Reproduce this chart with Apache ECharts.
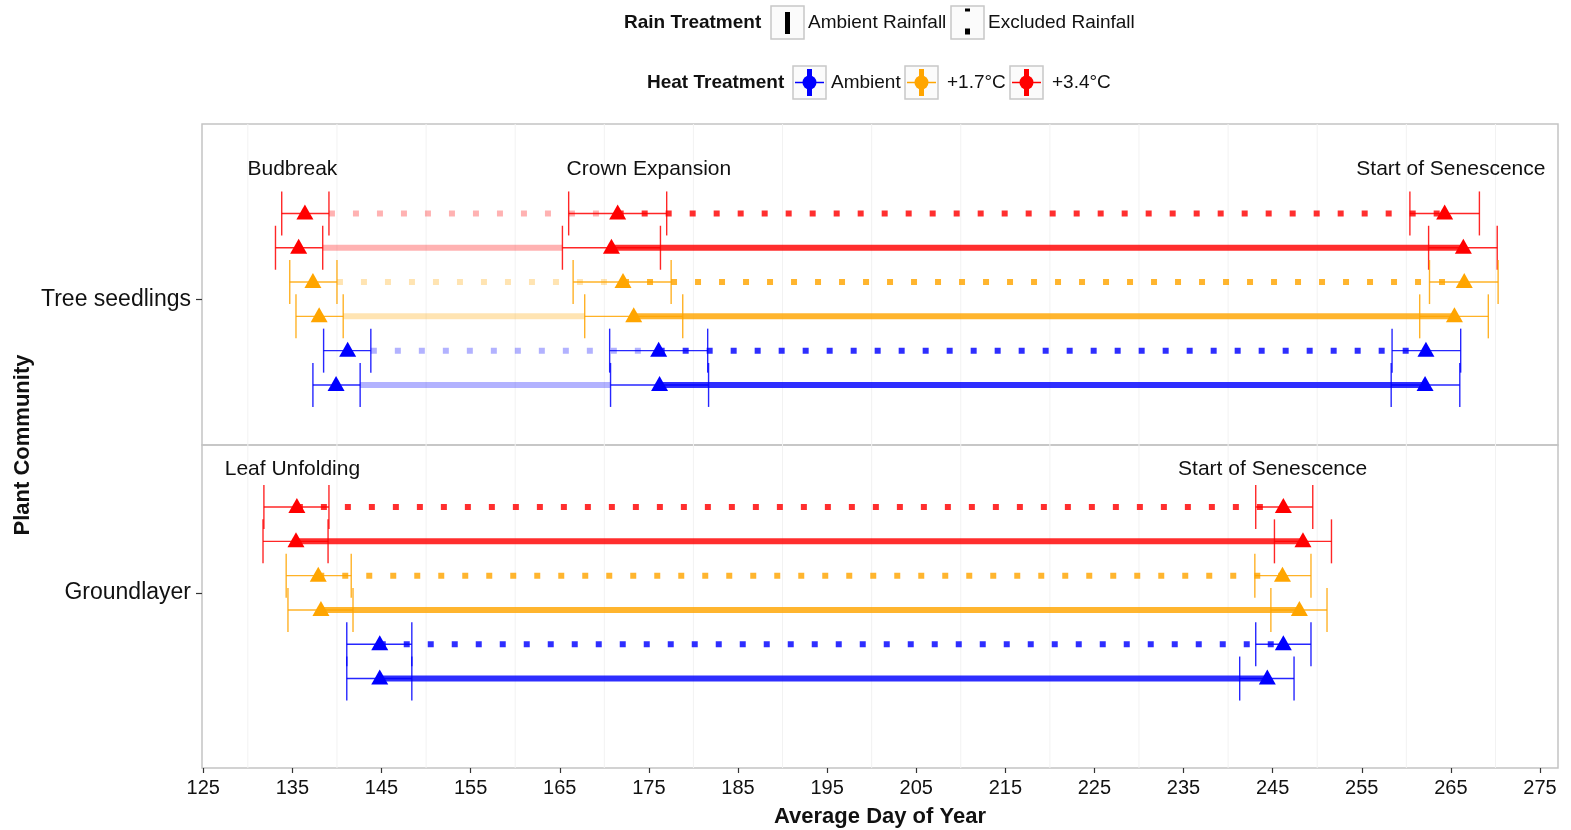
<!DOCTYPE html>
<html>
<head>
<meta charset="utf-8">
<script src="https://cdn.jsdelivr.net/npm/echarts@6.0.0/dist/echarts.min.js"></script>
<style>
  html, body { margin: 0; padding: 0; background: #ffffff; }
  #main { width: 1571px; height: 830px; }
</style>
</head>
<body>
<div id="main"></div>
<script>
// ---------------- DATA ----------------
const communities = ['Tree seedlings', 'Groundlayer'];
const heatLevels = ['Ambient', '+1.7°C', '+3.4°C'];
const rainLevels = ['Ambient Rainfall', 'Excluded Rainfall'];

// rows, top to bottom inside each panel
const rowHeat = ['+3.4°C', '+3.4°C', '+1.7°C', '+1.7°C', 'Ambient', 'Ambient'];
const rowRain = ['Excluded Rainfall', 'Ambient Rainfall', 'Excluded Rainfall', 'Ambient Rainfall', 'Excluded Rainfall', 'Ambient Rainfall'];

// Tree seedlings (day of year): lower CI, mean, upper CI
const treeBudbreakLo   = [133.8, 133.1, 134.7, 135.4, 138.5, 137.3];
const treeBudbreakMean = [136.4, 135.7, 137.3, 138.0, 141.2, 139.9];
const treeBudbreakHi   = [139.1, 138.4, 140.0, 140.7, 143.8, 142.6];
const treeCrownLo      = [166.0, 165.3, 166.5, 167.8, 170.6, 170.7];
const treeCrownMean    = [171.5, 170.8, 172.1, 173.3, 176.1, 176.2];
const treeCrownHi      = [177.0, 176.3, 177.5, 178.8, 181.6, 181.7];
const treeSenLo        = [260.4, 262.5, 262.6, 261.5, 258.4, 258.3];
const treeSenMean      = [264.3, 266.4, 266.5, 265.4, 262.2, 262.1];
const treeSenHi        = [268.2, 270.2, 270.3, 269.2, 266.1, 266.0];

// Groundlayer
const groundLeafLo   = [131.8, 131.7, 134.3, 134.5, 141.1, 141.1];
const groundLeafMean = [135.5, 135.4, 137.9, 138.2, 144.8, 144.8];
const groundLeafHi   = [139.1, 139.0, 141.6, 141.8, 148.4, 148.4];
const groundSenLo    = [243.1, 245.2, 243.0, 244.8, 243.1, 241.3];
const groundSenMean  = [246.2, 248.4, 246.1, 248.0, 246.2, 244.4];
const groundSenHi    = [249.5, 251.6, 249.3, 251.1, 249.3, 247.4];

// phase annotations
const treeLabels = ['Budbreak', 'Crown Expansion', 'Start of Senescence'];
const treeLabelDays = [135, 175, 265];
const groundLabels = ['Leaf Unfolding', 'Start of Senescence'];
const groundLabelDays = [135, 245];

// axis ticks
const xTicks = [125, 135, 145, 155, 165, 175, 185, 195, 205, 215, 225, 235, 245, 255, 265, 275];
const xGridDays = [130, 140, 150, 160, 170, 180, 190, 200, 210, 220, 230, 240, 250, 260, 270];

// ---------------- STYLE / LAYOUT ----------------
const FONT = '"Liberation Sans", Arial, Helvetica, sans-serif';
const heatColor = { 'Ambient': '#0000FF', '+1.7°C': '#FFA500', '+3.4°C': '#FF0000' };
const X_MIN = 124.854, X_MAX = 277.02;
const Y_RANGE = [[-4.251, 5.108], [-5.108, 4.309]];
const ANN_Y = [3.80, 3.60];
const CAP = 22;

function rowY(i) { return 2.5 - i; }

const series = [];

// faint vertical grid lines
[0, 1].forEach(p => {
  series.push({
    type: 'custom', xAxisIndex: p, yAxisIndex: p, silent: true, z: 0,
    data: xGridDays.map(d => [d]),
    encode: { x: 0 },
    renderItem: (params, api) => {
      const cs = params.coordSys;
      const px = api.coord([api.value(0), 0])[0];
      return { type: 'line', shape: { x1: px, y1: cs.y, x2: px, y2: cs.y + cs.height },
               style: { stroke: '#f2f2f2', lineWidth: 1 } };
    }
  });
});

function segment(p, x1, x2, y, color, opacity, dotted) {
  series.push({
    type: 'line', xAxisIndex: p, yAxisIndex: p, silent: true, z: 1,
    symbol: 'none', showSymbol: false,
    data: [[x1, y], [x2, y]],
    lineStyle: { width: 6, color: color, opacity: opacity,
                 type: dotted ? [6, 18] : 'solid', cap: 'butt' }
  });
}

function errorBars(p, items) {
  series.push({
    type: 'custom', xAxisIndex: p, yAxisIndex: p, silent: true, z: 3,
    data: items.map(d => [d.lo, d.hi, d.y]),
    encode: { x: [0, 1], y: 2 },
    renderItem: (params, api) => {
      const it = items[params.dataIndex];
      const a = api.coord([api.value(0), api.value(2)]);
      const b = api.coord([api.value(1), api.value(2)]);
      const st = { stroke: it.color, lineWidth: 1.4, opacity: 0.85 };
      return { type: 'group', children: [
        { type: 'line', shape: { x1: a[0], y1: a[1], x2: b[0], y2: b[1] }, style: st },
        { type: 'line', shape: { x1: a[0], y1: a[1] - CAP, x2: a[0], y2: a[1] + CAP }, style: st },
        { type: 'line', shape: { x1: b[0], y1: b[1] - CAP, x2: b[0], y2: b[1] + CAP }, style: st }
      ] };
    }
  });
}

function points(p, items) {
  series.push({
    type: 'scatter', xAxisIndex: p, yAxisIndex: p, silent: true, z: 4,
    symbol: 'triangle', symbolSize: [17, 15], symbolOffset: [0, -1.5],
    data: items.map(d => ({ value: [d.x, d.y], itemStyle: { color: d.color, opacity: 1 } }))
  });
}

function annotations(p, labels, days) {
  series.push({
    type: 'custom', xAxisIndex: p, yAxisIndex: p, silent: true, z: 5,
    data: days.map(d => [d, ANN_Y[p]]),
    encode: { x: 0, y: 1 },
    renderItem: (params, api) => {
      const c = api.coord([api.value(0), api.value(1)]);
      return { type: 'text', x: c[0], y: c[1],
               style: { text: labels[params.dataIndex], fill: '#111', fontSize: 21,
                        fontFamily: FONT, align: 'center', verticalAlign: 'middle' } };
    }
  });
}

// Tree seedlings panel
(function () {
  const eb = [], pts = [];
  for (let i = 0; i < 6; i++) {
    const y = rowY(i), color = heatColor[rowHeat[i]];
    const dotted = rowRain[i] === 'Excluded Rainfall';
    segment(0, treeBudbreakHi[i], dotted ? treeCrownMean[i] : treeCrownLo[i], y, color, 0.3, dotted);
    segment(0, treeCrownMean[i], treeSenMean[i], y, color, 0.82, dotted);
    eb.push({ lo: treeBudbreakLo[i], hi: treeBudbreakHi[i], y, color });
    eb.push({ lo: treeCrownLo[i], hi: treeCrownHi[i], y, color });
    eb.push({ lo: treeSenLo[i], hi: treeSenHi[i], y, color });
    pts.push({ x: treeBudbreakMean[i], y, color });
    pts.push({ x: treeCrownMean[i], y, color });
    pts.push({ x: treeSenMean[i], y, color });
  }
  errorBars(0, eb);
  points(0, pts);
  annotations(0, treeLabels, treeLabelDays);
})();

// Groundlayer panel
(function () {
  const eb = [], pts = [];
  for (let i = 0; i < 6; i++) {
    const y = rowY(i), color = heatColor[rowHeat[i]];
    const dotted = rowRain[i] === 'Excluded Rainfall';
    segment(1, groundLeafMean[i], groundSenMean[i], y, color, 0.82, dotted);
    eb.push({ lo: groundLeafLo[i], hi: groundLeafHi[i], y, color });
    eb.push({ lo: groundSenLo[i], hi: groundSenHi[i], y, color });
    pts.push({ x: groundLeafMean[i], y, color });
    pts.push({ x: groundSenMean[i], y, color });
  }
  errorBars(1, eb);
  points(1, pts);
  annotations(1, groundLabels, groundLabelDays);
})();

// ---------------- LEGEND (graphic) ----------------
const legendText = (txt, x, y, bold) => ({
  type: 'text', x: x, y: y,
  style: { text: txt, fontSize: 19, fontWeight: bold ? 'bold' : 'normal', fill: '#111',
           fontFamily: FONT, align: 'left', verticalAlign: 'middle' }
});
const keyBox = (x, y) => ({
  type: 'rect', shape: { x: x, y: y, width: 33, height: 33 },
  style: { fill: '#fbfbfb', stroke: '#c8c8c8', lineWidth: 1.5 }
});
const heatKey = (x, y, color) => ([
  keyBox(x, y),
  { type: 'line', shape: { x1: x + 2, y1: y + 16.5, x2: x + 31, y2: y + 16.5 }, style: { stroke: color, lineWidth: 1.5 } },
  { type: 'rect', shape: { x: x + 14, y: y + 3, width: 5, height: 27 }, style: { fill: color } },
  { type: 'circle', shape: { cx: x + 16.5, cy: y + 16.5, r: 7 }, style: { fill: color } }
]);

const graphic = [
  legendText('Rain Treatment', 624, 23, true),
  keyBox(771, 6),
  { type: 'rect', shape: { x: 785, y: 12, width: 5, height: 22 }, style: { fill: '#000' } },
  legendText(rainLevels[0], 808, 23, false),
  keyBox(951, 6),
  { type: 'rect', shape: { x: 965, y: 8.5, width: 5, height: 3 }, style: { fill: '#000' } },
  { type: 'rect', shape: { x: 965, y: 28.5, width: 5, height: 6 }, style: { fill: '#000' } },
  legendText(rainLevels[1], 988, 23, false),

  legendText('Heat Treatment', 647, 83, true),
  ...heatKey(793, 66, heatColor[heatLevels[0]]),
  legendText(heatLevels[0], 831, 83, false),
  ...heatKey(905, 66, heatColor[heatLevels[1]]),
  legendText(heatLevels[1], 947, 83, false),
  ...heatKey(1010, 66, heatColor[heatLevels[2]]),
  legendText(heatLevels[2], 1052, 83, false),

  { type: 'text', x: 23, y: 445, rotation: Math.PI / 2,
    style: { text: 'Plant Community', fontSize: 22, fontWeight: 'bold', fill: '#111',
             fontFamily: FONT, align: 'center', verticalAlign: 'middle' } }
];

// ---------------- OPTION ----------------
const gridBase = { left: 202, right: 13, show: true, borderColor: '#c4c4c4', borderWidth: 1.5,
                   backgroundColor: 'transparent', containLabel: false, outerBoundsMode: 'none' };

const option = {
  animation: false,
  backgroundColor: '#ffffff',
  textStyle: { fontFamily: FONT },
  graphic: graphic,
  grid: [
    Object.assign({ top: 124, height: 321 }, gridBase),
    Object.assign({ top: 445, height: 323 }, gridBase)
  ],
  xAxis: [
    { type: 'value', gridIndex: 0, min: X_MIN, max: X_MAX, show: false, splitLine: { show: false } },
    { type: 'value', gridIndex: 1, min: X_MIN, max: X_MAX, position: 'bottom',
      name: 'Average Day of Year', nameLocation: 'middle', nameGap: 38,
      nameTextStyle: { fontSize: 22, fontWeight: 'bold', color: '#111', fontFamily: FONT },
      axisLine: { show: false, onZero: false },
      axisTick: { show: true, customValues: xTicks, length: 5, lineStyle: { color: '#333', width: 1.2 } },
      axisLabel: { show: true, customValues: xTicks, fontSize: 20, color: '#111', margin: 10,
                   fontFamily: FONT, formatter: v => String(v) },
      splitLine: { show: false } }
  ],
  yAxis: [0, 1].map(p => ({
    type: 'value', gridIndex: p, min: Y_RANGE[p][0], max: Y_RANGE[p][1], position: 'left',
    axisLine: { show: false, onZero: false },
    axisTick: { show: true, customValues: [0], length: 6, lineStyle: { color: '#333', width: 1.2 } },
    axisLabel: { show: true, customValues: [0], fontSize: 23, color: '#111', margin: 11,
                 fontFamily: FONT, formatter: () => communities[p] },
    splitLine: { show: false }
  })),
  series: series
};

const chart = echarts.init(document.getElementById('main'), null, { renderer: 'canvas' });
chart.setOption(option);
</script>
</body>
</html>
